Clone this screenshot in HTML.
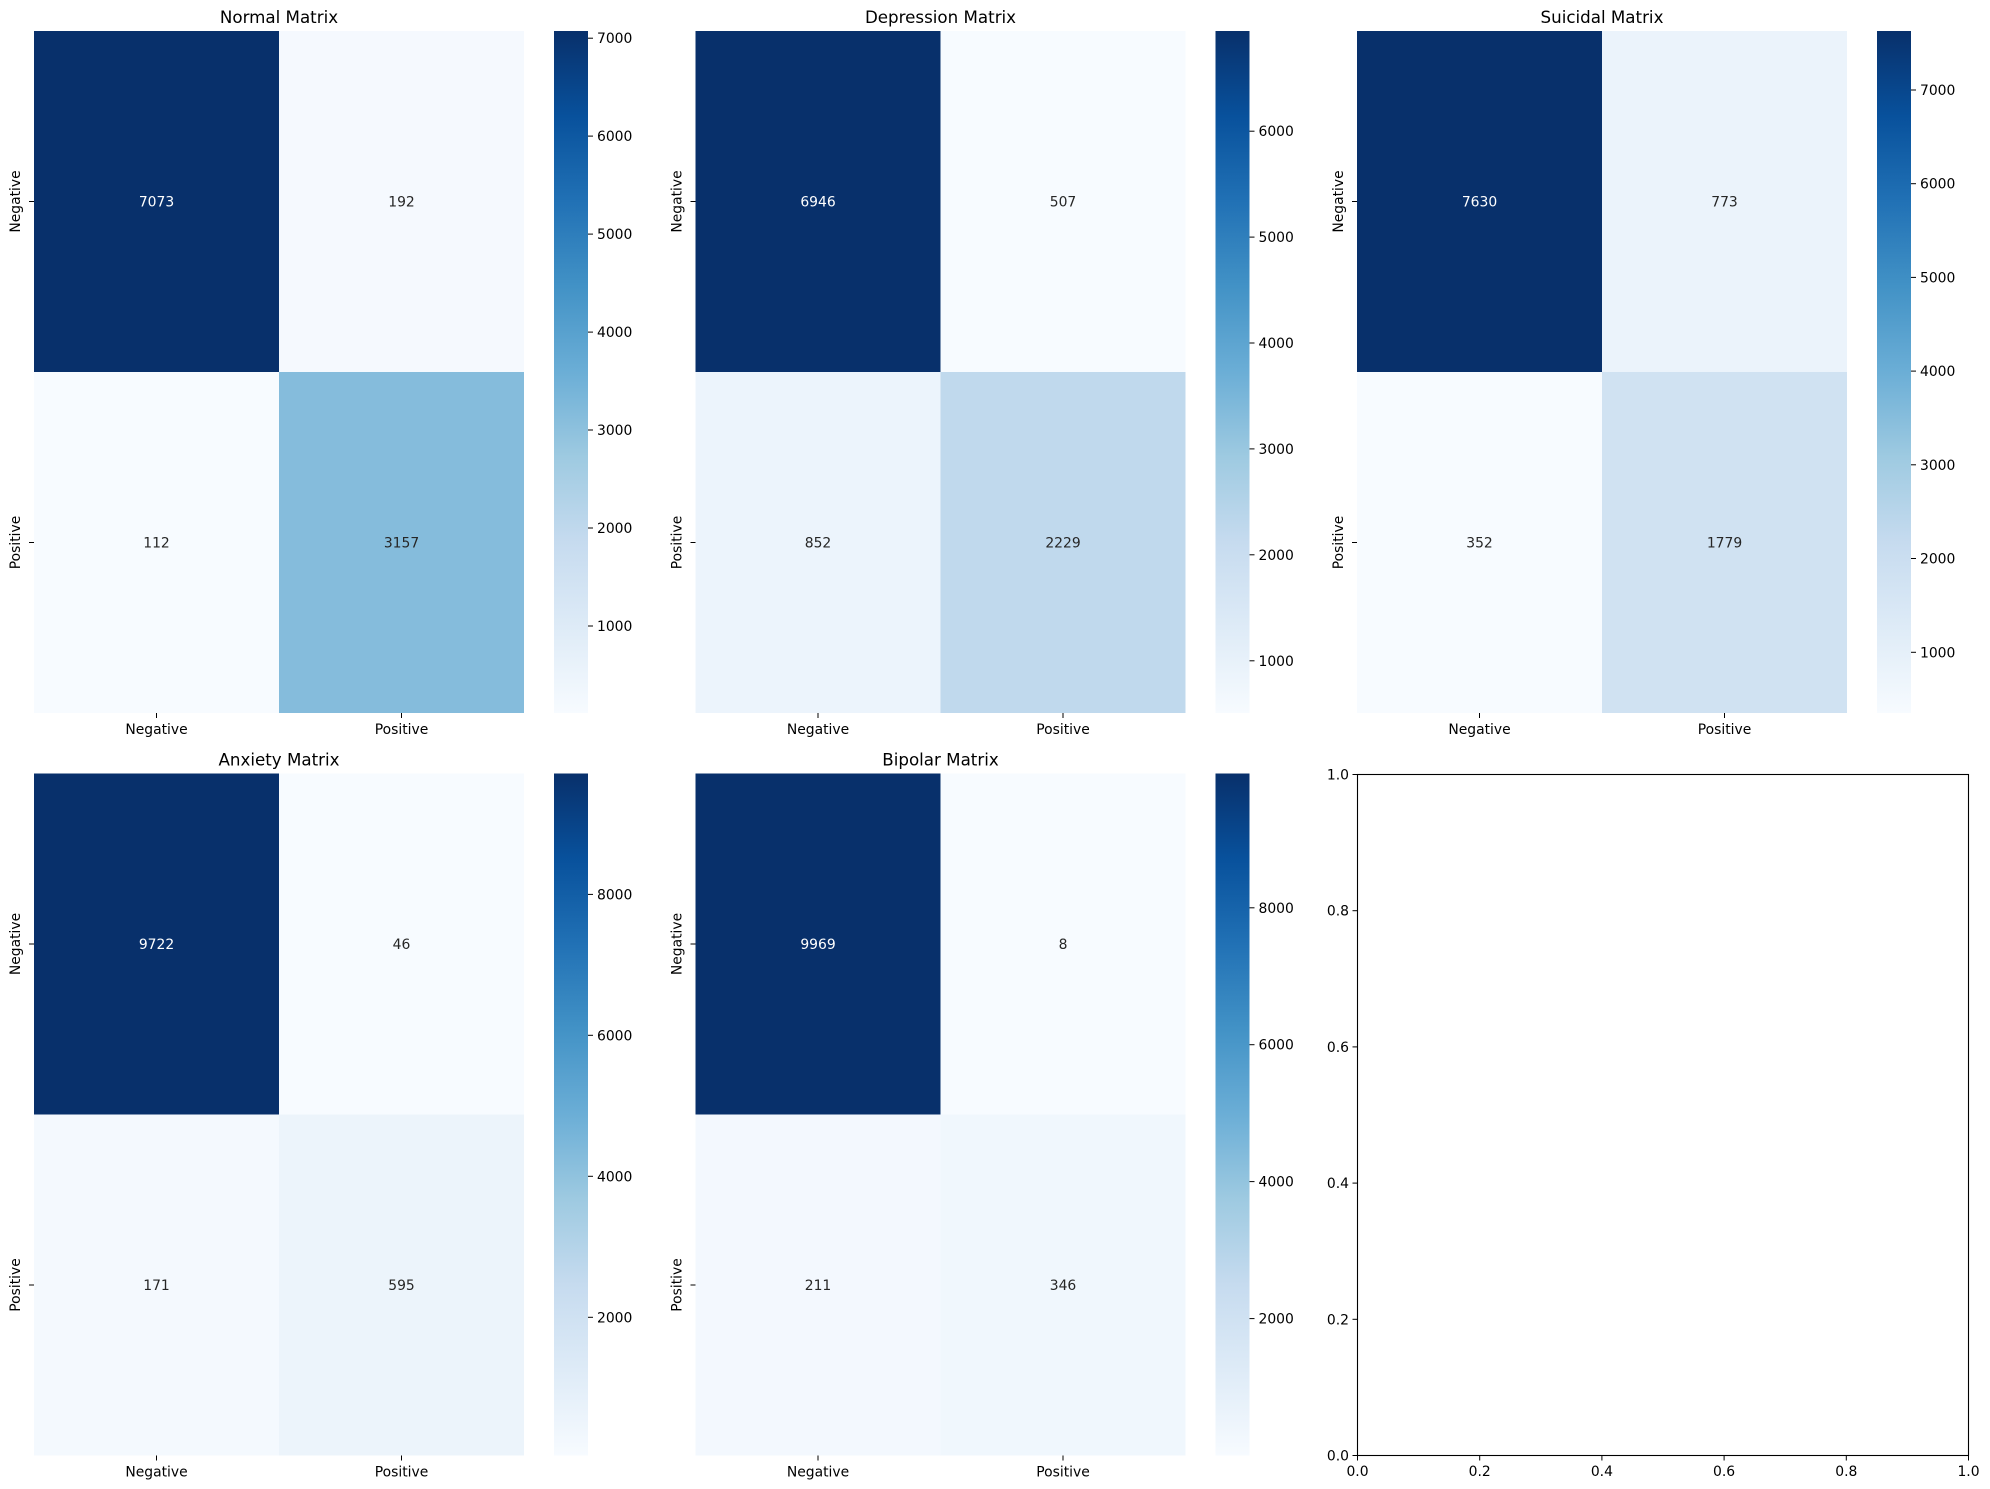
<!DOCTYPE html>
<html><head><meta charset="utf-8"><style>
html,body{margin:0;padding:0;background:#fff}
svg{display:block}
text{font-family:"DejaVu Sans","Liberation Sans",sans-serif;font-size:13.9px;fill:#262626}
.t{font-size:16.7px;fill:#000}
.w{fill:#fff}
.k{fill:#000}
</style></head><body>
<svg width="1990" height="1489" viewBox="0 0 1990 1489" xmlns="http://www.w3.org/2000/svg">
<defs>
<linearGradient id="blues" x1="0" y1="1" x2="0" y2="0">
<stop offset="0" stop-color="#f7fbff"/><stop offset="0.125" stop-color="#deebf7"/><stop offset="0.25" stop-color="#c6dbef"/><stop offset="0.375" stop-color="#9ecae1"/><stop offset="0.5" stop-color="#6baed6"/><stop offset="0.625" stop-color="#4292c6"/><stop offset="0.75" stop-color="#2171b5"/><stop offset="0.875" stop-color="#08519c"/><stop offset="1" stop-color="#08306b"/>
</linearGradient>
</defs>

<!-- ===== Normal ===== -->
<g>
<rect x="34" y="31" width="245" height="341" fill="#08306b"/>
<rect x="279" y="31" width="245" height="341" fill="#f5f9fe"/>
<rect x="34" y="372" width="245" height="341" fill="#f7fbff"/>
<rect x="279" y="372" width="245" height="341" fill="#85bcdc"/>
<text x="156.5" y="206.5" text-anchor="middle" class="w">7073</text>
<text x="401.5" y="206.5" text-anchor="middle">192</text>
<text x="156.5" y="547.5" text-anchor="middle">112</text>
<text x="401.5" y="547.5" text-anchor="middle">3157</text>
<text class="t" x="279" y="23" text-anchor="middle">Normal Matrix</text>
<line x1="29" y1="201.5" x2="34" y2="201.5" stroke="#000"/><line x1="29" y1="542.5" x2="34" y2="542.5" stroke="#000"/>
<text transform="translate(20,201.5) rotate(-90)" text-anchor="middle" class="k">Negative</text>
<text transform="translate(20,542.5) rotate(-90)" text-anchor="middle" class="k">Positive</text>
<line x1="156.5" y1="713" x2="156.5" y2="718" stroke="#000"/><line x1="401.5" y1="713" x2="401.5" y2="718" stroke="#000"/>
<text x="156.5" y="734" text-anchor="middle" class="k">Negative</text>
<text x="401.5" y="734" text-anchor="middle" class="k">Positive</text>
<rect x="554" y="31" width="34" height="682" fill="url(#blues)"/>
<g stroke="#000"><line x1="588" x2="593" y1="38.2" y2="38.2"/><line x1="588" x2="593" y1="136.1" y2="136.1"/><line x1="588" x2="593" y1="234.1" y2="234.1"/><line x1="588" x2="593" y1="332.1" y2="332.1"/><line x1="588" x2="593" y1="430" y2="430"/><line x1="588" x2="593" y1="528" y2="528"/><line x1="588" x2="593" y1="626" y2="626"/></g>
<g class="k"><text x="597" y="43.2" class="k">7000</text><text x="597" y="141.1" class="k">6000</text><text x="597" y="239.1" class="k">5000</text><text x="597" y="337.1" class="k">4000</text><text x="597" y="435" class="k">3000</text><text x="597" y="533" class="k">2000</text><text x="597" y="631" class="k">1000</text></g>
</g>

<!-- ===== Depression ===== -->
<g transform="translate(661.5,0)">
<rect x="34" y="31" width="245" height="341" fill="#08306b"/>
<rect x="279" y="31" width="245" height="341" fill="#f7fbff"/>
<rect x="34" y="372" width="245" height="341" fill="#ecf4fc"/>
<rect x="279" y="372" width="245" height="341" fill="#c0d9ed"/>
<text x="156.5" y="206.5" text-anchor="middle" class="w">6946</text>
<text x="401.5" y="206.5" text-anchor="middle">507</text>
<text x="156.5" y="547.5" text-anchor="middle">852</text>
<text x="401.5" y="547.5" text-anchor="middle">2229</text>
<text class="t" x="279" y="23" text-anchor="middle">Depression Matrix</text>
<line x1="29" y1="201.5" x2="34" y2="201.5" stroke="#000"/><line x1="29" y1="542.5" x2="34" y2="542.5" stroke="#000"/>
<text transform="translate(20,201.5) rotate(-90)" text-anchor="middle" class="k">Negative</text>
<text transform="translate(20,542.5) rotate(-90)" text-anchor="middle" class="k">Positive</text>
<line x1="156.5" y1="713" x2="156.5" y2="718" stroke="#000"/><line x1="401.5" y1="713" x2="401.5" y2="718" stroke="#000"/>
<text x="156.5" y="734" text-anchor="middle" class="k">Negative</text>
<text x="401.5" y="734" text-anchor="middle" class="k">Positive</text>
<rect x="554" y="31" width="34" height="682" fill="url(#blues)"/>
<g stroke="#000"><line x1="588" x2="593" y1="131.2" y2="131.2"/><line x1="588" x2="593" y1="237.1" y2="237.1"/><line x1="588" x2="593" y1="343" y2="343"/><line x1="588" x2="593" y1="448.9" y2="448.9"/><line x1="588" x2="593" y1="554.8" y2="554.8"/><line x1="588" x2="593" y1="660.8" y2="660.8"/></g>
<text x="597" y="136.2" class="k">6000</text><text x="597" y="242.1" class="k">5000</text><text x="597" y="348" class="k">4000</text><text x="597" y="453.9" class="k">3000</text><text x="597" y="559.8" class="k">2000</text><text x="597" y="665.8" class="k">1000</text>
</g>

<!-- ===== Suicidal ===== -->
<g transform="translate(1323,0)">
<rect x="34" y="31" width="245" height="341" fill="#08306b"/>
<rect x="279" y="31" width="245" height="341" fill="#ebf3fb"/>
<rect x="34" y="372" width="245" height="341" fill="#f7fbff"/>
<rect x="279" y="372" width="245" height="341" fill="#d0e2f2"/>
<text x="156.5" y="206.5" text-anchor="middle" class="w">7630</text>
<text x="401.5" y="206.5" text-anchor="middle">773</text>
<text x="156.5" y="547.5" text-anchor="middle">352</text>
<text x="401.5" y="547.5" text-anchor="middle">1779</text>
<text class="t" x="279" y="23" text-anchor="middle">Suicidal Matrix</text>
<line x1="29" y1="201.5" x2="34" y2="201.5" stroke="#000"/><line x1="29" y1="542.5" x2="34" y2="542.5" stroke="#000"/>
<text transform="translate(20,201.5) rotate(-90)" text-anchor="middle" class="k">Negative</text>
<text transform="translate(20,542.5) rotate(-90)" text-anchor="middle" class="k">Positive</text>
<line x1="156.5" y1="713" x2="156.5" y2="718" stroke="#000"/><line x1="401.5" y1="713" x2="401.5" y2="718" stroke="#000"/>
<text x="156.5" y="734" text-anchor="middle" class="k">Negative</text>
<text x="401.5" y="734" text-anchor="middle" class="k">Positive</text>
<rect x="554" y="31" width="34" height="682" fill="url(#blues)"/>
<g stroke="#000"><line x1="588" x2="593" y1="90" y2="90"/><line x1="588" x2="593" y1="183.7" y2="183.7"/><line x1="588" x2="593" y1="277.4" y2="277.4"/><line x1="588" x2="593" y1="371.1" y2="371.1"/><line x1="588" x2="593" y1="464.8" y2="464.8"/><line x1="588" x2="593" y1="558.5" y2="558.5"/><line x1="588" x2="593" y1="652.3" y2="652.3"/></g>
<text x="597" y="95" class="k">7000</text><text x="597" y="188.7" class="k">6000</text><text x="597" y="282.4" class="k">5000</text><text x="597" y="376.1" class="k">4000</text><text x="597" y="469.8" class="k">3000</text><text x="597" y="563.5" class="k">2000</text><text x="597" y="657.3" class="k">1000</text>
</g>

<!-- ===== Anxiety ===== -->
<g transform="translate(0,742.5)">
<rect x="34" y="31" width="245" height="341" fill="#08306b"/>
<rect x="279" y="31" width="245" height="341" fill="#f7fbff"/>
<rect x="34" y="372" width="245" height="341" fill="#f4f9fe"/>
<rect x="279" y="372" width="245" height="341" fill="#ecf4fb"/>
<text x="156.5" y="206.5" text-anchor="middle" class="w">9722</text>
<text x="401.5" y="206.5" text-anchor="middle">46</text>
<text x="156.5" y="547.5" text-anchor="middle">171</text>
<text x="401.5" y="547.5" text-anchor="middle">595</text>
<text class="t" x="279" y="23" text-anchor="middle">Anxiety Matrix</text>
<line x1="29" y1="201.5" x2="34" y2="201.5" stroke="#000"/><line x1="29" y1="542.5" x2="34" y2="542.5" stroke="#000"/>
<text transform="translate(20,201.5) rotate(-90)" text-anchor="middle" class="k">Negative</text>
<text transform="translate(20,542.5) rotate(-90)" text-anchor="middle" class="k">Positive</text>
<line x1="156.5" y1="713" x2="156.5" y2="718" stroke="#000"/><line x1="401.5" y1="713" x2="401.5" y2="718" stroke="#000"/>
<text x="156.5" y="734" text-anchor="middle" class="k">Negative</text>
<text x="401.5" y="734" text-anchor="middle" class="k">Positive</text>
<rect x="554" y="31" width="34" height="682" fill="url(#blues)"/>
<g stroke="#000"><line x1="588" x2="593" y1="151.9" y2="151.9"/><line x1="588" x2="593" y1="292.8" y2="292.8"/><line x1="588" x2="593" y1="433.8" y2="433.8"/><line x1="588" x2="593" y1="574.8" y2="574.8"/></g>
<text x="597" y="156.9" class="k">8000</text><text x="597" y="297.8" class="k">6000</text><text x="597" y="438.8" class="k">4000</text><text x="597" y="579.8" class="k">2000</text>
</g>

<!-- ===== Bipolar ===== -->
<g transform="translate(661.5,742.5)">
<rect x="34" y="31" width="245" height="341" fill="#08306b"/>
<rect x="279" y="31" width="245" height="341" fill="#f7fbff"/>
<rect x="34" y="372" width="245" height="341" fill="#f3f8fe"/>
<rect x="279" y="372" width="245" height="341" fill="#f0f7fd"/>
<text x="156.5" y="206.5" text-anchor="middle" class="w">9969</text>
<text x="401.5" y="206.5" text-anchor="middle">8</text>
<text x="156.5" y="547.5" text-anchor="middle">211</text>
<text x="401.5" y="547.5" text-anchor="middle">346</text>
<text class="t" x="279" y="23" text-anchor="middle">Bipolar Matrix</text>
<line x1="29" y1="201.5" x2="34" y2="201.5" stroke="#000"/><line x1="29" y1="542.5" x2="34" y2="542.5" stroke="#000"/>
<text transform="translate(20,201.5) rotate(-90)" text-anchor="middle" class="k">Negative</text>
<text transform="translate(20,542.5) rotate(-90)" text-anchor="middle" class="k">Positive</text>
<line x1="156.5" y1="713" x2="156.5" y2="718" stroke="#000"/><line x1="401.5" y1="713" x2="401.5" y2="718" stroke="#000"/>
<text x="156.5" y="734" text-anchor="middle" class="k">Negative</text>
<text x="401.5" y="734" text-anchor="middle" class="k">Positive</text>
<rect x="554" y="31" width="34" height="682" fill="url(#blues)"/>
<g stroke="#000"><line x1="588" x2="593" y1="165.3" y2="165.3"/><line x1="588" x2="593" y1="302.2" y2="302.2"/><line x1="588" x2="593" y1="439.1" y2="439.1"/><line x1="588" x2="593" y1="576.1" y2="576.1"/></g>
<text x="597" y="170.3" class="k">8000</text><text x="597" y="307.2" class="k">6000</text><text x="597" y="444.1" class="k">4000</text><text x="597" y="581.1" class="k">2000</text>
</g>

<!-- ===== Empty axes ===== -->
<g>
<rect x="1357.5" y="774.5" width="611" height="681" fill="none" stroke="#000" stroke-width="1.1"/>
<g stroke="#000">
<line x1="1357.5" x2="1357.5" y1="1455.5" y2="1460.5"/><line x1="1479.7" x2="1479.7" y1="1455.5" y2="1460.5"/><line x1="1601.9" x2="1601.9" y1="1455.5" y2="1460.5"/><line x1="1724.1" x2="1724.1" y1="1455.5" y2="1460.5"/><line x1="1846.3" x2="1846.3" y1="1455.5" y2="1460.5"/><line x1="1968.5" x2="1968.5" y1="1455.5" y2="1460.5"/>
<line x1="1352.5" x2="1357.5" y1="1455.5" y2="1455.5"/><line x1="1352.5" x2="1357.5" y1="1319.3" y2="1319.3"/><line x1="1352.5" x2="1357.5" y1="1183.1" y2="1183.1"/><line x1="1352.5" x2="1357.5" y1="1046.9" y2="1046.9"/><line x1="1352.5" x2="1357.5" y1="910.7" y2="910.7"/><line x1="1352.5" x2="1357.5" y1="774.5" y2="774.5"/>
</g>
<text x="1357.5" y="1476" text-anchor="middle" class="k">0.0</text><text x="1479.7" y="1476" text-anchor="middle" class="k">0.2</text><text x="1601.9" y="1476" text-anchor="middle" class="k">0.4</text><text x="1724.1" y="1476" text-anchor="middle" class="k">0.6</text><text x="1846.3" y="1476" text-anchor="middle" class="k">0.8</text><text x="1968.5" y="1476" text-anchor="middle" class="k">1.0</text>
<text x="1349" y="1460.5" text-anchor="end" class="k">0.0</text><text x="1349" y="1324.3" text-anchor="end" class="k">0.2</text><text x="1349" y="1188.1" text-anchor="end" class="k">0.4</text><text x="1349" y="1051.9" text-anchor="end" class="k">0.6</text><text x="1349" y="915.7" text-anchor="end" class="k">0.8</text><text x="1349" y="779.5" text-anchor="end" class="k">1.0</text>
</g>
</svg>
</body></html>
